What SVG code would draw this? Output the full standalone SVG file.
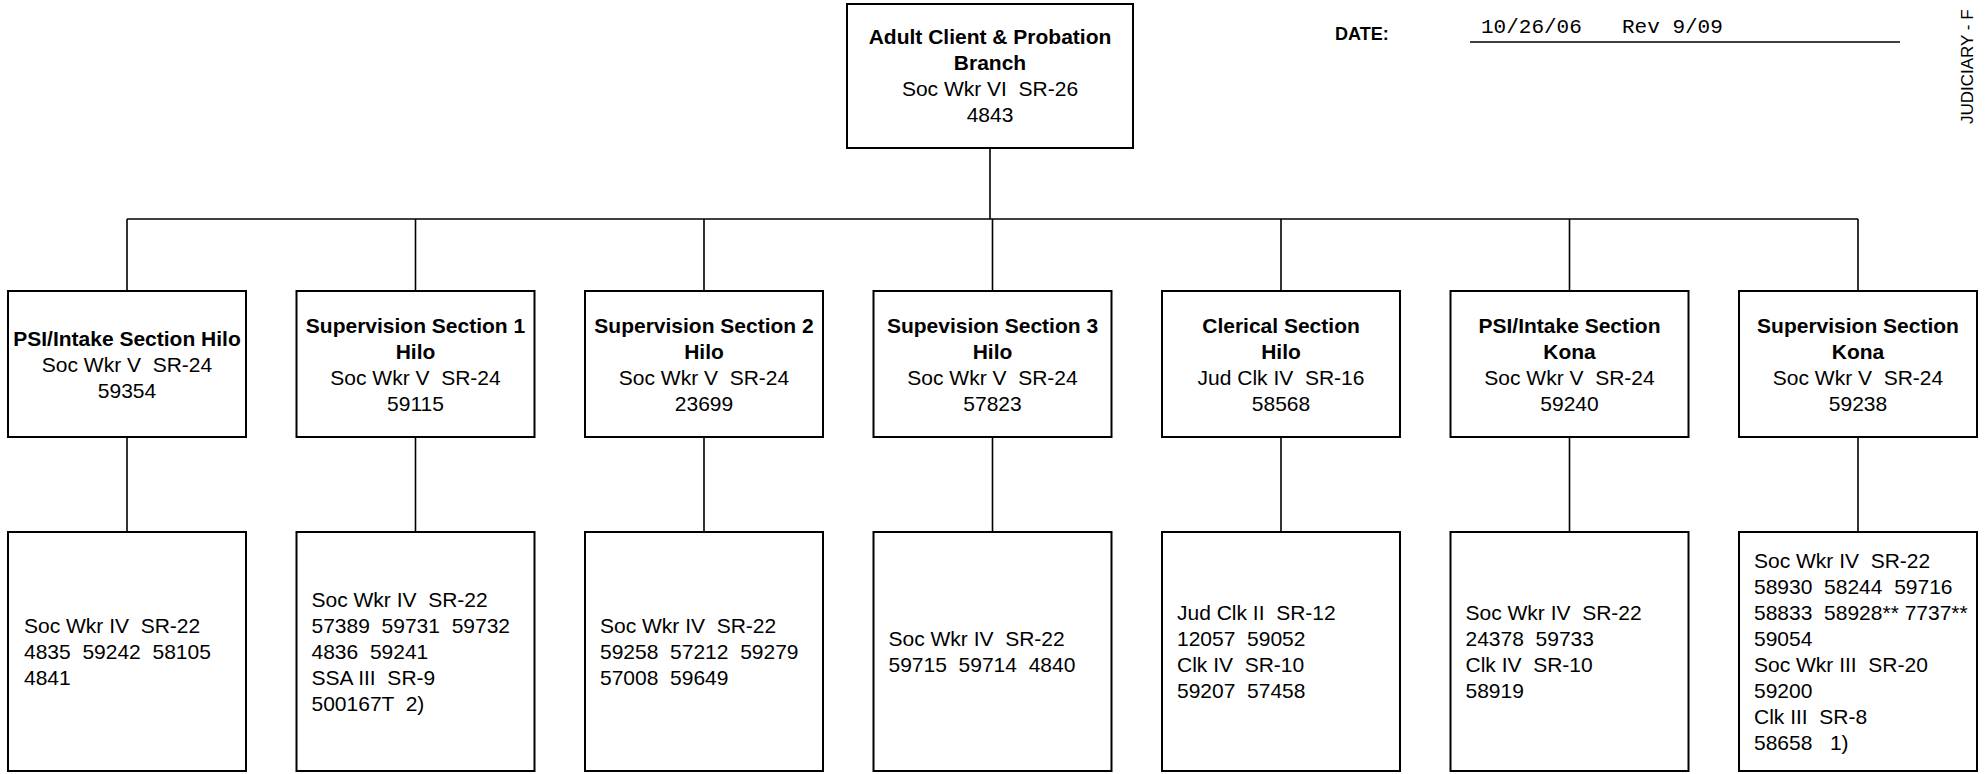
<svg xmlns="http://www.w3.org/2000/svg" width="1986" height="774" viewBox="0 0 1986 774">
<style>
  text { font-family: "Liberation Sans", Arial, sans-serif; font-size: 21px; fill: #000; white-space: pre; }
  .b { font-weight: bold; }
  .c { text-anchor: middle; }
  .box { fill: #fff; stroke: #000; stroke-width: 2; }
  .ln { stroke: #000; stroke-width: 1.6; fill: none; }
  .date { font-family: "Liberation Mono", "DejaVu Sans Mono", monospace; font-size: 21px; }
</style>
<rect x="0" y="0" width="1986" height="774" fill="#fff"/>

<g id="header">
  <text class="b" x="1335" y="40" style="font-size:18px">DATE:</text>
  <text class="date" x="1481" y="33">10/26/06</text>
  <text class="date" x="1622" y="33">Rev 9/09</text>
  <line class="ln" x1="1470" y1="42" x2="1900" y2="42"/>
  <text x="1973" y="124" transform="rotate(-90 1973 124)" style="font-size:17px">JUDICIARY - F</text>
</g>

<g id="connectors">
  <line class="ln" x1="990" y1="148" x2="990" y2="219"/>
  <line class="ln" x1="127" y1="219" x2="1858" y2="219"/>
  <path class="ln" d="M127 219V291 M415.5 219V291 M704 219V291 M992.5 219V291 M1281 219V291 M1569.5 219V291 M1858 219V291"/>
  <path class="ln" d="M127 437V532 M415.5 437V532 M704 437V532 M992.5 437V532 M1281 437V532 M1569.5 437V532 M1858 437V532"/>
</g>

<g id="branch">
  <rect class="box" x="847" y="4" width="286" height="144"/>
  <text class="b c" x="990" y="43.5">Adult Client &amp; Probation</text>
  <text class="b c" x="990" y="69.5">Branch</text>
  <text class="c" x="990" y="95.5">Soc Wkr VI  SR-26</text>
  <text class="c" x="990" y="121.5">4843</text>
</g>

<g id="s1">
  <rect class="box" x="8" y="291" width="238" height="146"/>
  <text class="b c" x="127" y="345.5">PSI/Intake Section Hilo</text>
  <text class="c" x="127" y="371.5">Soc Wkr V  SR-24</text>
  <text class="c" x="127" y="397.5">59354</text>
</g>
<g id="s2">
  <rect class="box" x="296.5" y="291" width="238" height="146"/>
  <text class="b c" x="415.5" y="332.5">Supervision Section 1</text>
  <text class="b c" x="415.5" y="358.5">Hilo</text>
  <text class="c" x="415.5" y="384.5">Soc Wkr V  SR-24</text>
  <text class="c" x="415.5" y="410.5">59115</text>
</g>
<g id="s3">
  <rect class="box" x="585" y="291" width="238" height="146"/>
  <text class="b c" x="704" y="332.5">Supervision Section 2</text>
  <text class="b c" x="704" y="358.5">Hilo</text>
  <text class="c" x="704" y="384.5">Soc Wkr V  SR-24</text>
  <text class="c" x="704" y="410.5">23699</text>
</g>
<g id="s4">
  <rect class="box" x="873.5" y="291" width="238" height="146"/>
  <text class="b c" x="992.5" y="332.5">Supevision Section 3</text>
  <text class="b c" x="992.5" y="358.5">Hilo</text>
  <text class="c" x="992.5" y="384.5">Soc Wkr V  SR-24</text>
  <text class="c" x="992.5" y="410.5">57823</text>
</g>
<g id="s5">
  <rect class="box" x="1162" y="291" width="238" height="146"/>
  <text class="b c" x="1281" y="332.5">Clerical Section</text>
  <text class="b c" x="1281" y="358.5">Hilo</text>
  <text class="c" x="1281" y="384.5">Jud Clk IV  SR-16</text>
  <text class="c" x="1281" y="410.5">58568</text>
</g>
<g id="s6">
  <rect class="box" x="1450.5" y="291" width="238" height="146"/>
  <text class="b c" x="1569.5" y="332.5">PSI/Intake Section</text>
  <text class="b c" x="1569.5" y="358.5">Kona</text>
  <text class="c" x="1569.5" y="384.5">Soc Wkr V  SR-24</text>
  <text class="c" x="1569.5" y="410.5">59240</text>
</g>
<g id="s7">
  <rect class="box" x="1739" y="291" width="238" height="146"/>
  <text class="b c" x="1858" y="332.5">Supervision Section</text>
  <text class="b c" x="1858" y="358.5">Kona</text>
  <text class="c" x="1858" y="384.5">Soc Wkr V  SR-24</text>
  <text class="c" x="1858" y="410.5">59238</text>
</g>

<g id="staff1">
  <rect class="box" x="8" y="532" width="238" height="239"/>
  <text x="24" y="633">Soc Wkr IV  SR-22</text>
  <text x="24" y="659">4835  59242  58105</text>
  <text x="24" y="685">4841</text>
</g>
<g id="staff2">
  <rect class="box" x="296.5" y="532" width="238" height="239"/>
  <text x="311.5" y="607">Soc Wkr IV  SR-22</text>
  <text x="311.5" y="633">57389  59731  59732</text>
  <text x="311.5" y="659">4836  59241</text>
  <text x="311.5" y="685">SSA III  SR-9</text>
  <text x="311.5" y="711">500167T  2)</text>
</g>
<g id="staff3">
  <rect class="box" x="585" y="532" width="238" height="239"/>
  <text x="600" y="633">Soc Wkr IV  SR-22</text>
  <text x="600" y="659">59258  57212  59279</text>
  <text x="600" y="685">57008  59649</text>
</g>
<g id="staff4">
  <rect class="box" x="873.5" y="532" width="238" height="239"/>
  <text x="888.5" y="646">Soc Wkr IV  SR-22</text>
  <text x="888.5" y="672">59715  59714  4840</text>
</g>
<g id="staff5">
  <rect class="box" x="1162" y="532" width="238" height="239"/>
  <text x="1177" y="620">Jud Clk II  SR-12</text>
  <text x="1177" y="646">12057  59052</text>
  <text x="1177" y="672">Clk IV  SR-10</text>
  <text x="1177" y="698">59207  57458</text>
</g>
<g id="staff6">
  <rect class="box" x="1450.5" y="532" width="238" height="239"/>
  <text x="1465.5" y="620">Soc Wkr IV  SR-22</text>
  <text x="1465.5" y="646">24378  59733</text>
  <text x="1465.5" y="672">Clk IV  SR-10</text>
  <text x="1465.5" y="698">58919</text>
</g>
<g id="staff7">
  <rect class="box" x="1739" y="532" width="238" height="239"/>
  <text x="1754" y="568">Soc Wkr IV  SR-22</text>
  <text x="1754" y="594">58930  58244  59716</text>
  <text x="1754" y="620">58833  58928** 7737**</text>
  <text x="1754" y="646">59054</text>
  <text x="1754" y="672">Soc Wkr III  SR-20</text>
  <text x="1754" y="698">59200</text>
  <text x="1754" y="724">Clk III  SR-8</text>
  <text x="1754" y="750">58658   1)</text>
</g>
</svg>
